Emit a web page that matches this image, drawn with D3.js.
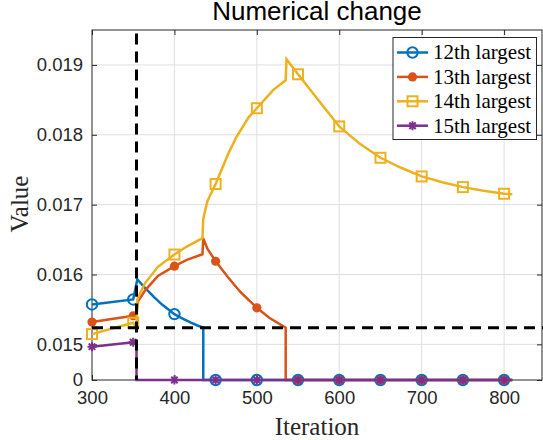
<!DOCTYPE html>
<html><head><meta charset="utf-8">
<script src="https://cdn.jsdelivr.net/npm/d3@7"></script>
<style>body{margin:0;background:#fff;}svg{display:block;}</style>
</head><body>
<svg id="c" width="543" height="440"></svg>
<script>
// ---- data ----
const xTicks = [300, 400, 500, 600, 700, 800];
const yTicks = [0, 0.015, 0.016, 0.017, 0.018, 0.019];
const seriesNames = ["12th largest", "13th largest", "14th largest", "15th largest"];
const seriesColors = ["#0072BD", "#D95319", "#EDB120", "#7E2F8E"];
const markerIters = [300, 350, 400, 450, 500, 550, 600, 650, 700, 750, 800];

const iter12 = [300, 350, 355, 365, 375, 385, 400, 410, 420, 428, 435, 435, 450, 500, 550, 600, 650, 700, 750, 800, 810];
const val12  = [0.015571, 0.015643, 0.01593, 0.01580, 0.01568, 0.01557, 0.015433, 0.01537, 0.01531, 0.01527, 0.01524, 0, 0, 0, 0, 0, 0, 0, 0, 0, 0];

const iter13 = [300, 350, 354, 356, 365, 380, 400, 415, 434, 435, 440, 450, 465, 480, 500, 515, 535, 535, 550, 600, 650, 700, 750, 800, 810];
const val13  = [0.015319, 0.01541, 0.01545, 0.01562, 0.01578, 0.01598, 0.01612, 0.01621, 0.01629, 0.01652, 0.01637, 0.01619, 0.01596, 0.01575, 0.015523, 0.01538, 0.01524, 0, 0, 0, 0, 0, 0, 0, 0];

const iter14 = [300, 350, 354, 355, 364, 380, 400, 415, 434, 435, 440, 450, 465, 475, 490, 500, 520, 535, 536, 550, 575, 600, 625, 650, 675, 700, 725, 750, 775, 800, 810];
const val14  = [0.015147, 0.01531, 0.01524, 0.01564, 0.01587, 0.01611, 0.016286, 0.0164, 0.01652, 0.0168, 0.01705, 0.017295, 0.01772, 0.017965, 0.01825, 0.01838, 0.018643, 0.01878, 0.01908, 0.018866, 0.01849, 0.01812, 0.01787, 0.017671, 0.017528, 0.017404, 0.01732, 0.017251, 0.0172, 0.017156, 0.01715];

const iter15 = [300, 350, 354, 354, 400, 450, 500, 550, 600, 650, 700, 750, 800, 810];
const val15  = [0.014967, 0.01503, 0.01502, 0, 0, 0, 0, 0, 0, 0, 0, 0, 0, 0];

const thresholdIter = 354;
const thresholdValue = 0.015237;

// ---- layout ----
const L = 92, R = 542, T = 30, B = 380;
const svg = d3.select("#c");
const x = d3.scaleLinear().domain([300, 846]).range([L, R]);
const y = d3.scaleLinear().domain([0, 0.01449, 0.0195]).range([B, B, T]);
const axisCol = "#262626";
const sans = "'Liberation Sans', Arial, sans-serif";
const serif = "'Liberation Serif', 'Times New Roman', serif";

// grid
const grid = svg.append("g");
grid.selectAll("line.gx").data(xTicks.filter(d => d > 300)).join("line")
  .attr("x1", d => x(d)).attr("x2", d => x(d)).attr("y1", T).attr("y2", B)
  .attr("stroke", "#dfdfdf").attr("stroke-width", 1);
grid.selectAll("line.gy").data(yTicks.filter(d => d > 0)).join("line")
  .attr("x1", L).attr("x2", R).attr("y1", d => y(d)).attr("y2", d => y(d))
  .attr("stroke", "#dfdfdf").attr("stroke-width", 1);

// axes
function styleAxis(g) {
  g.select(".domain").attr("stroke", axisCol).attr("stroke-width", 1);
  g.selectAll(".tick line").attr("stroke", axisCol);
  g.selectAll(".tick text").attr("fill", axisCol).attr("font-family", sans).attr("font-size", "18.5px");
}
svg.append("g").attr("transform", `translate(0,${B})`)
  .call(d3.axisBottom(x).tickValues(xTicks).tickSize(-5).tickSizeOuter(0).tickPadding(11).tickFormat(d3.format("d")))
  .call(styleAxis);
svg.append("g").attr("transform", `translate(0,${T})`)
  .call(d3.axisTop(x).tickValues(xTicks).tickSize(-5).tickSizeOuter(0).tickFormat(""))
  .call(styleAxis);
svg.append("g").attr("transform", `translate(${L},0)`)
  .call(d3.axisLeft(y).tickValues(yTicks).tickSize(-5).tickSizeOuter(0).tickPadding(9)
    .tickFormat(d => d === 0 ? "0" : d3.format(".3f")(d)))
  .call(styleAxis);
svg.append("g").attr("transform", `translate(${R},0)`)
  .call(d3.axisRight(y).tickValues(yTicks).tickSize(-5).tickSizeOuter(0).tickFormat(""))
  .call(styleAxis);
svg.selectAll(".domain").attr("d", null);
svg.append("rect").attr("x", L).attr("y", T).attr("width", R - L).attr("height", B - T)
  .attr("fill", "none").attr("stroke", axisCol).attr("stroke-width", 1);

// markers
function drawMarker(g, type, cx, cy, color) {
  if (type === 0) {
    g.append("circle").attr("cx", cx).attr("cy", cy).attr("r", 5.2)
      .attr("fill", "none").attr("stroke", color).attr("stroke-width", 2);
  } else if (type === 1) {
    g.append("circle").attr("cx", cx).attr("cy", cy).attr("r", 4.6).attr("fill", color);
  } else if (type === 2) {
    g.append("rect").attr("x", cx - 5).attr("y", cy - 5).attr("width", 10).attr("height", 10)
      .attr("fill", "none").attr("stroke", color).attr("stroke-width", 2);
  } else {
    const s = 4.5, d = s * 0.72;
    const p = `M${cx - s},${cy}L${cx + s},${cy}M${cx},${cy - s}L${cx},${cy + s}` +
      `M${cx - d},${cy - d}L${cx + d},${cy + d}M${cx - d},${cy + d}L${cx + d},${cy - d}`;
    g.append("path").attr("d", p).attr("stroke", color).attr("stroke-width", 2).attr("fill", "none");
  }
}

const seriesData = [[iter12, val12], [iter13, val13], [iter14, val14], [iter15, val15]];
const line = d3.line().x(d => x(d[0])).y(d => y(d[1]));
seriesData.forEach(([its, vals], i) => {
  const pts = its.map((it, k) => [it, vals[k]]);
  const g = svg.append("g");
  g.append("path").attr("d", line(pts)).attr("fill", "none")
    .attr("stroke", seriesColors[i]).attr("stroke-width", 2.5).attr("stroke-linejoin", "miter");
  markerIters.forEach(m => {
    const k = its.indexOf(m);
    if (k >= 0) drawMarker(g, i, x(m), y(vals[k]), seriesColors[i]);
  });
});

// dashed reference lines
svg.append("line").attr("x1", x(thresholdIter)).attr("x2", x(thresholdIter))
  .attr("y1", y(0.01945)).attr("y2", y(0))
  .attr("stroke", "#000").attr("stroke-width", 3).attr("stroke-dasharray", "11,7");
svg.append("line").attr("x1", x(300)).attr("x2", R + 2)
  .attr("y1", y(thresholdValue)).attr("y2", y(thresholdValue))
  .attr("stroke", "#000").attr("stroke-width", 3).attr("stroke-dasharray", "11,7");

// title and labels
svg.append("text").attr("x", 317).attr("y", 20).attr("text-anchor", "middle")
  .attr("font-family", sans).attr("font-size", "26px").attr("fill", "#000").text("Numerical change");
svg.append("text").attr("x", 317).attr("y", 435).attr("text-anchor", "middle")
  .attr("font-family", serif).attr("font-size", "25px").attr("fill", "#262626").text("Iteration");
svg.append("text").attr("transform", "translate(28,204) rotate(-90)").attr("text-anchor", "middle")
  .attr("font-family", serif).attr("font-size", "25px").attr("fill", "#262626").text("Value");

// legend
const lg = svg.append("g");
lg.append("rect").attr("x", 393).attr("y", 37.5).attr("width", 143.5).attr("height", 102)
  .attr("fill", "#fff").attr("stroke", axisCol).attr("stroke-width", 1);
seriesNames.forEach((name, i) => {
  const cy = 52.5 + i * 24.4;
  lg.append("line").attr("x1", 397).attr("x2", 428).attr("y1", cy).attr("y2", cy)
    .attr("stroke", seriesColors[i]).attr("stroke-width", 2.5);
  drawMarker(lg, i, 412.5, cy, seriesColors[i]);
  lg.append("text").attr("x", 433).attr("y", cy).attr("dy", "0.33em")
    .attr("font-family", serif).attr("font-size", "21px").attr("fill", "#000").text(name);
});
</script>
</body></html>
